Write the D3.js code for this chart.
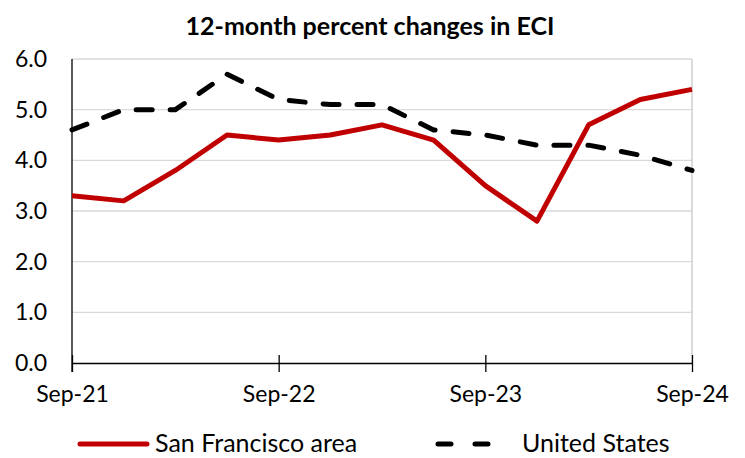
<!DOCTYPE html>
<html>
<head>
    <title>12-month percent changes in ECI</title>
    <style>
        body { margin: 0; background: #fff; }
        svg text { font-family: Lato, "Open Sans", sans-serif; fill: #000; }
        .grid line { stroke: #d9d9d9; stroke-width: 1.3px; }
    </style>
</head>
<body>
    <div id="chart"></div>

    <script src="https://cdnjs.cloudflare.com/ajax/libs/d3/7.8.5/d3.min.js"></script>
    <script>
        // Quarterly data, Sep-21 .. Sep-24
        const quarters = ["Sep-21", "Dec-21", "Mar-22", "Jun-22", "Sep-22", "Dec-22", "Mar-23",
                          "Jun-23", "Sep-23", "Dec-23", "Mar-24", "Jun-24", "Sep-24"];
        const sanFrancisco = [3.3, 3.2, 3.8, 4.5, 4.4, 4.5, 4.7, 4.4, 3.5, 2.8, 4.7, 5.2, 5.4];
        const unitedStates = [4.6, 5.0, 5.0, 5.7, 5.2, 5.1, 5.1, 4.6, 4.5, 4.3, 4.3, 4.1, 3.8];
        const xTickLabels = ["Sep-21", "Sep-22", "Sep-23", "Sep-24"];
        const yTicks = [0, 1, 2, 3, 4, 5, 6];

        const width = 745, height = 458;
        const margin = {top: 59, right: 53, bottom: 95, left: 72};

        const svg = d3.select("#chart")
            .append("svg")
            .attr("width", width)
            .attr("height", height);

        const x = d3.scalePoint()
            .domain(quarters)
            .range([margin.left, width - margin.right]);

        const y = d3.scaleLinear()
            .domain([0, 6])
            .range([height - margin.bottom, margin.top]);

        // title
        svg.append("text")
            .attr("x", 370)
            .attr("y", 35)
            .attr("text-anchor", "middle")
            .style("font-size", "25px")
            .style("font-weight", "bold")
            .text("12-month percent changes in ECI");

        // gridlines
        svg.append("g")
            .attr("class", "grid")
            .selectAll("line")
            .data(yTicks.slice(1))
            .enter()
            .append("line")
            .attr("x1", margin.left)
            .attr("x2", width - margin.right)
            .attr("y1", d => y(d))
            .attr("y2", d => y(d));

        // right border
        svg.append("line")
            .attr("x1", width - margin.right).attr("x2", width - margin.right)
            .attr("y1", y(6)).attr("y2", y(0))
            .attr("stroke", "#c8c8c8").attr("stroke-width", 1.3);

        // y axis
        const yAxis = svg.append("g")
            .attr("transform", `translate(${margin.left},0)`)
            .call(d3.axisLeft(y).tickValues(yTicks).tickFormat(d3.format(".1f")).tickSize(0).tickPadding(25));
        yAxis.select(".domain").attr("stroke", "#000").attr("stroke-width", 1.3)
            .attr("d", `M0,${y(6)}V${y(0) + 9}`);
        yAxis.selectAll("text").style("font-size", "23px").attr("font-family", null);

        // x axis with crossing ticks
        const xAxis = svg.append("g")
            .attr("transform", `translate(0,${y(0)})`)
            .call(d3.axisBottom(x).tickValues(xTickLabels).tickSizeInner(9).tickSizeOuter(0).tickPadding(14));
        xAxis.select(".domain").attr("stroke", "#000").attr("stroke-width", 1.3);
        xAxis.selectAll(".tick line").attr("stroke", "#000").attr("stroke-width", 1.3)
            .attr("y1", -8);
        xAxis.selectAll("text").style("font-size", "23px").attr("font-family", null);

        const line = d3.line()
            .x((d, i) => x(quarters[i]))
            .y(d => y(d));

        svg.append("path")
            .datum(unitedStates)
            .attr("fill", "none")
            .attr("stroke", "#000")
            .attr("stroke-width", 5)
            .attr("stroke-dasharray", "16,18")
            .attr("stroke-linecap", "round")
            .attr("d", line);

        svg.append("path")
            .datum(sanFrancisco)
            .attr("fill", "none")
            .attr("stroke", "#c00000")
            .attr("stroke-width", 5)
            .attr("stroke-linejoin", "round")
            .attr("d", line);

        // legend
        const legend = svg.append("g").attr("transform", "translate(0,444)");
        legend.append("line")
            .attr("x1", 80).attr("x2", 147)
            .attr("stroke", "#c00000").attr("stroke-width", 5).attr("stroke-linecap", "round");
        legend.append("text")
            .attr("x", 155).attr("y", 8)
            .style("font-size", "25px")
            .text("San Francisco area");
        legend.append("line")
            .attr("x1", 438).attr("x2", 489)
            .attr("stroke", "#000").attr("stroke-width", 5)
            .attr("stroke-dasharray", "13,24").attr("stroke-linecap", "round");
        legend.append("text")
            .attr("x", 522).attr("y", 8)
            .style("font-size", "25px")
            .text("United States");
    </script>
</body>
</html>
